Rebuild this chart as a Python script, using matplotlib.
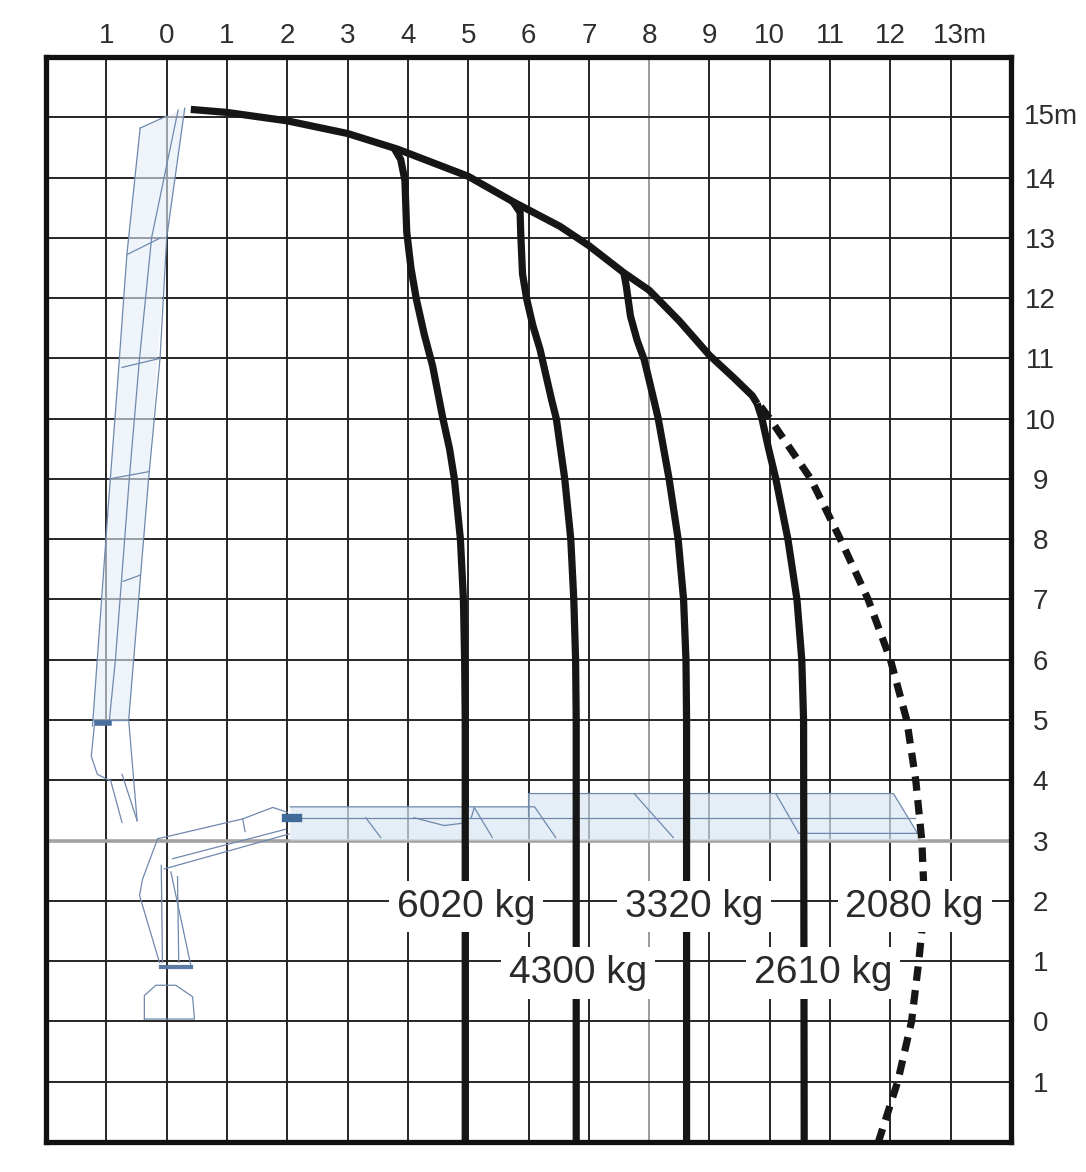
import matplotlib
matplotlib.use("Agg")
import matplotlib.pyplot as plt

plt.rcParams['font.family'] = ['Liberation Sans', 'DejaVu Sans']

# axis ticks / labels
x_ticks = list(range(-1, 14))
x_labels = ['1', '0', '1', '2', '3', '4', '5', '6', '7', '8', '9', '10', '11', '12', '13m']
y_ticks = list(range(15, -2, -1))
y_labels = ['15m', '14', '13', '12', '11', '10', '9', '8', '7', '6', '5', '4', '3', '2', '1', '0', '1']

# outer reach envelope (m)
env_x = [0.40, 1.0, 2.0, 3.0, 3.83, 5.0, 5.74, 6.52, 7.0, 7.58, 8.0, 8.5, 9.0, 9.4, 9.71, 9.79]
env_y = [15.13, 15.08, 14.94, 14.73, 14.47, 14.02, 13.6, 13.19, 12.87, 12.42, 12.13, 11.62, 11.05, 10.68, 10.38, 10.25]

# load curves
c6020_x = [3.78, 3.88, 3.95, 3.98, 4.05, 4.14, 4.27, 4.41, 4.58, 4.69, 4.77, 4.87, 4.92, 4.94, 4.95, 4.95]
c6020_y = [14.47, 14.3, 13.95, 13.1, 12.5, 11.98, 11.4, 10.87, 10.0, 9.5, 9.0, 8.0, 7.0, 6.0, 5.0, -2.0]
c4300_x = [5.74, 5.86, 5.87, 5.9, 5.97, 6.07, 6.19, 6.38, 6.46, 6.6, 6.7, 6.75, 6.78, 6.79, 6.79]
c4300_y = [13.6, 13.42, 13.08, 12.4, 11.98, 11.55, 11.15, 10.32, 10.0, 9.0, 8.0, 7.0, 6.0, 5.0, -2.0]
c3320_x = [7.58, 7.62, 7.69, 7.8, 7.92, 8.08, 8.15, 8.33, 8.48, 8.57, 8.61, 8.62, 8.62]
c3320_y = [12.42, 12.2, 11.7, 11.3, 10.97, 10.3, 10.0, 9.0, 8.0, 7.0, 6.0, 5.0, -2.0]
c2610_x = [9.79, 9.87, 9.98, 10.1, 10.3, 10.45, 10.53, 10.56, 10.57]
c2610_y = [10.25, 10.0, 9.5, 9.0, 8.0, 7.0, 6.0, 5.0, -2.0]
c2080_x = [9.85, 10.0, 10.68, 11.17, 11.63, 12.0, 12.27, 12.42, 12.52, 12.55, 12.52, 12.47, 12.35, 12.12, 11.8]
c2080_y = [10.2, 10.0, 9.0, 8.0, 7.0, 6.0, 5.0, 4.0, 3.0, 2.3, 1.5, 1.0, 0.0, -1.0, -2.0]

loads = ['6020 kg', '4300 kg', '3320 kg', '2610 kg', '2080 kg']
label_x = [4.96, 6.82, 8.74, 10.88, 12.40]
label_y = [1.74, 0.64, 1.74, 0.64, 1.74]

# crane sketch outlines (m)
crane_lines = [
    # folded boom
    [(0.30, 15.15), (0.0, 13.0), (-0.11, 11.0), (-0.3, 9.0), (-0.63, 5.0), (-0.49, 3.33)],
    [(0.19, 15.12), (-0.25, 13.0), (-0.45, 11.0), (-0.62, 9.0), (-0.85, 6.0), (-0.95, 5.0)],
    [(-0.44, 14.82), (-0.66, 12.72), (-0.82, 10.5), (-0.96, 8.66), (-1.23, 4.9)],
    [(-0.44, 14.82), (0.0, 15.02)],
    [(-0.66, 12.72), (-0.1, 13.0)],
    [(-0.74, 10.85), (-0.11, 11.0)],
    [(-0.95, 9.0), (-0.3, 9.12)],
    [(-0.72, 7.3), (-0.45, 7.4)],
    [(-1.2, 4.9), (-1.25, 4.4), (-1.15, 4.1), (-0.95, 4.0)],
    [(-0.93, 4.0), (-0.74, 3.3)],
    [(-0.74, 4.1), (-0.49, 3.33)],
    [(-1.2, 5.0), (-0.65, 5.0)],
    # column and base
    [(-0.37, 0.04), (-0.37, 0.43), (-0.18, 0.6), (0.15, 0.6), (0.43, 0.41), (0.46, 0.04), (-0.37, 0.04)],
    [(-0.15, 3.03), (-0.40, 2.36), (-0.45, 2.09), (-0.12, 0.98)],
    [(-0.09, 2.59), (-0.07, 0.98)],
    [(0.07, 2.48), (0.40, 0.93)],
    [(0.18, 2.4), (0.2, 0.98)],
    [(-0.15, 3.03), (1.26, 3.36), (1.76, 3.55), (2.0, 3.47)],
    [(-0.04, 2.53), (2.03, 3.11)],
    [(0.1, 2.7), (1.98, 3.19)],
    [(1.26, 3.36), (1.3, 3.15)],
    # horizontal boom
    [(2.05, 3.56), (6.1, 3.56), (6.45, 3.05)],
    [(6.0, 3.4), (6.0, 3.78), (12.05, 3.78), (12.45, 3.12), (10.48, 3.12), (10.1, 3.78)],
    [(2.05, 3.38), (12.4, 3.38)],
    [(7.75, 3.78), (8.4, 3.05)],
    [(3.3, 3.38), (3.55, 3.05)],
    [(5.05, 3.38), (5.1, 3.55), (5.4, 3.05)],
    [(4.1, 3.38), (4.6, 3.25), (5.0, 3.3)],
]
boom_fill = [(2.05, 3.0), (2.05, 3.56), (6.0, 3.56), (6.0, 3.78), (12.05, 3.78), (12.45, 3.1), (12.45, 3.0)]
vboom_fill = [(0.30, 15.15), (0.0, 13.0), (-0.3, 9.0), (-0.63, 5.0), (-1.23, 4.9), (-0.96, 8.66), (-0.66, 12.72), (-0.44, 14.82)]

fig = plt.figure(figsize=(10.86, 11.72), dpi=100)
ax = fig.add_axes([0.0424, 0.0256, 0.8886, 0.9258])
ax.set_xlim(-2, 14)
ax.set_ylim(-2, 16)

# grid
for gx in x_ticks:
    col = '#9a9a9a' if gx == 8 else '#262626'
    ax.axvline(gx, color=col, lw=1.4, zorder=1)
for gy in y_ticks:
    if gy == 3:
        ax.axhline(gy, color='#a3a3a3', lw=2.6, zorder=1)
    else:
        ax.axhline(gy, color='#262626', lw=1.4, zorder=1)

# crane sketch
ax.fill([p[0] for p in boom_fill], [p[1] for p in boom_fill], color='#dbe7f3', alpha=0.7, lw=0, zorder=1.5)
ax.fill([p[0] for p in vboom_fill], [p[1] for p in vboom_fill], color='#e4eef8', alpha=0.6, lw=0, zorder=1.5)
for seg in crane_lines:
    ax.plot([p[0] for p in seg], [p[1] for p in seg], color='#6f89ad', lw=0.9, zorder=2)
ax.plot([1.98, 2.17], [3.37, 3.37], color='#3f6a99', lw=6, zorder=2)
ax.plot([-0.1, 0.4], [0.9, 0.9], color='#5a7aa3', lw=3, zorder=2)
ax.plot([-1.15, -0.95], [4.95, 4.95], color='#4a6f9c', lw=4, zorder=2)

# envelope and load curves
kw = dict(color='#161616', lw=5.2, solid_capstyle='butt', solid_joinstyle='round', zorder=3)
ax.plot(env_x, env_y, **kw)
ax.plot(c6020_x, c6020_y, **kw)
ax.plot(c4300_x, c4300_y, **kw)
ax.plot(c3320_x, c3320_y, **kw)
ax.plot(c2610_x, c2610_y, **kw)
ax.plot(c2080_x, c2080_y, color='#161616', lw=5.2, dashes=(2.0, 1.3), zorder=3)

for txt, lx, ly in zip(loads, label_x, label_y):
    ax.text(lx, ly, txt, fontsize=28, color='#2a2a2a', ha='center', va='baseline', zorder=4,
            bbox=dict(boxstyle='square,pad=0.2', fc='white', ec='none'))

# ticks (the two labels with a unit are set as text so the number sits on the line)
ax.xaxis.tick_top()
ax.set_xticks(x_ticks)
ax.set_xticklabels(x_labels[:-1] + [''], fontsize=20, color='#2e2e2e')
ax.yaxis.tick_right()
ax.set_yticks(y_ticks)
ax.set_yticklabels([''] + y_labels[1:], fontsize=20, color='#2e2e2e')
ax.tick_params(axis='x', length=0, pad=6)
ax.tick_params(axis='y', length=0, pad=21)
for lab in ax.get_yticklabels():
    lab.set_horizontalalignment('center')

ax.annotate(x_labels[-1], xy=(x_ticks[-1], 16), xycoords='data', xytext=(-13, 10),
            textcoords='offset points', fontsize=20, color='#2e2e2e', ha='left', va='baseline',
            annotation_clip=False)
ax.annotate(y_labels[0], xy=(14, y_ticks[0]), xycoords='data', xytext=(9, 0),
            textcoords='offset points', fontsize=20, color='#2e2e2e', ha='left', va='center',
            annotation_clip=False)

for sp in ax.spines.values():
    sp.set_linewidth(3.8)
    sp.set_color('#111111')
    sp.set_zorder(5)

fig.savefig('out.png', dpi=100, facecolor='white')
